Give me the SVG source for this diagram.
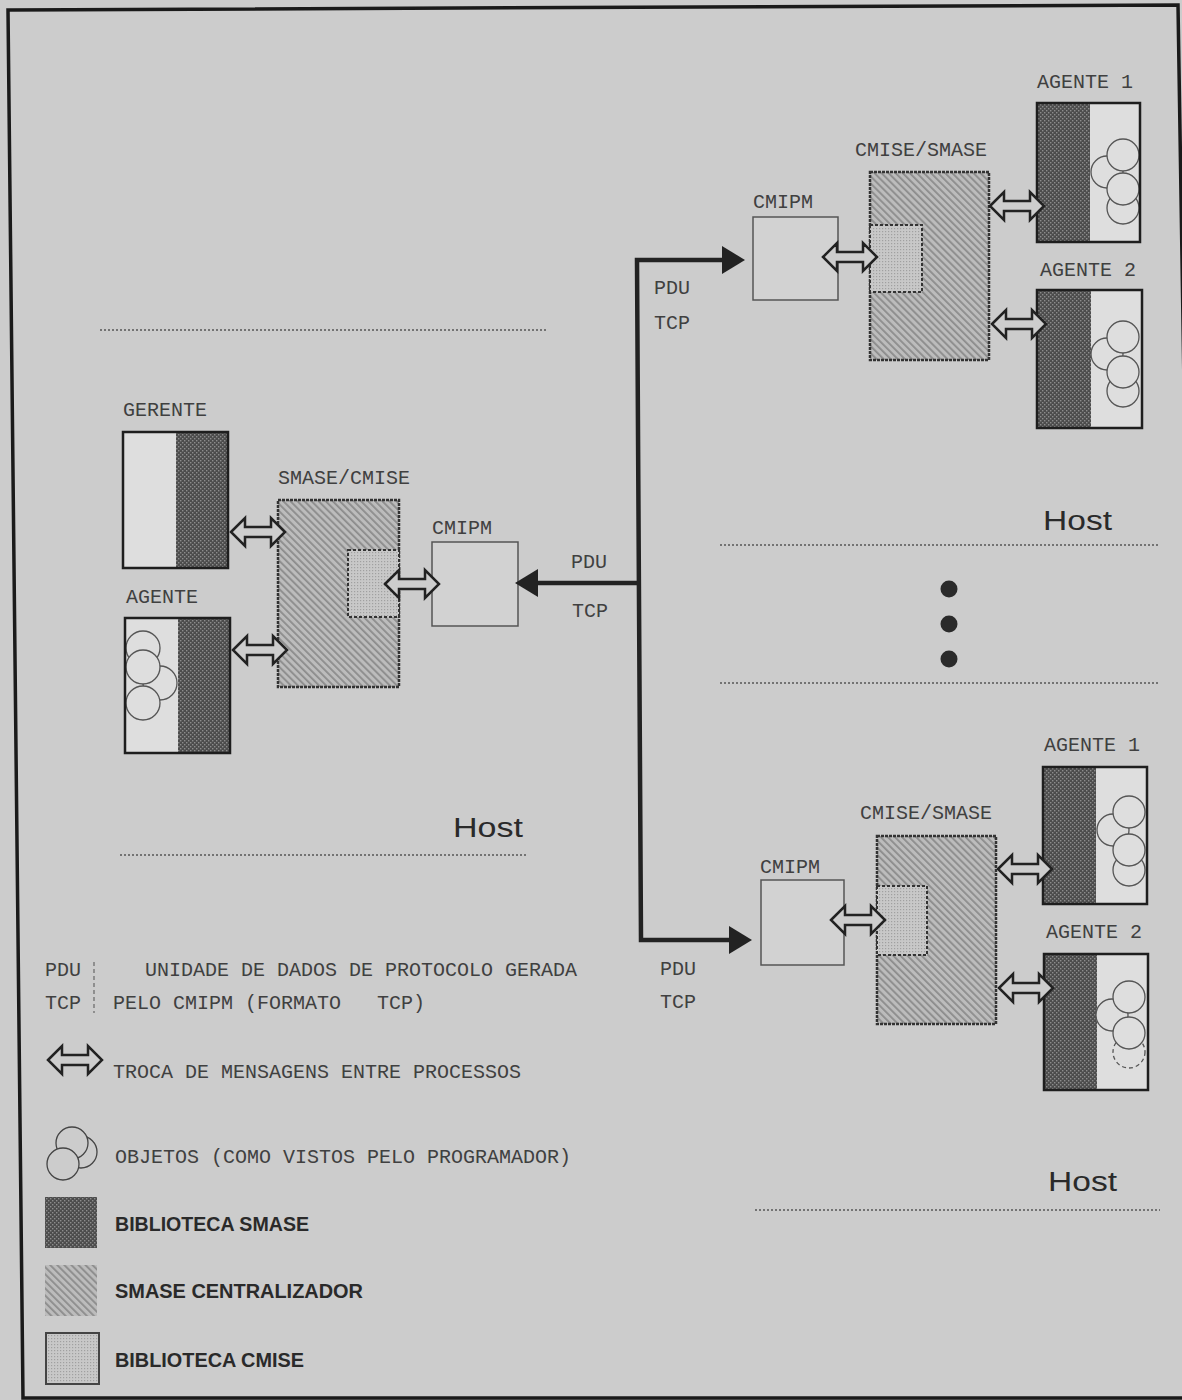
<svg xmlns="http://www.w3.org/2000/svg" width="1182" height="1400" viewBox="0 0 1182 1400">
<defs>
<style>
.mono{font-family:"Liberation Mono","DejaVu Sans Mono",monospace;font-size:20px;fill:#404040}
.host{font-family:"Liberation Sans",Arial,sans-serif;font-size:27px;fill:#2a2a2a}
.leg{font-family:"Liberation Sans",Arial,sans-serif;font-size:21px;font-weight:bold;fill:#2a2a2a}
.border{fill:none;stroke:#1e1e1e;stroke-width:2.5}
.light{fill:#dedede}
.dark{fill:url(#pDark)}
.cmipm{fill:#d2d2d2;stroke:#555;stroke-width:1.5}
.cent{fill:url(#pHatch);stroke:#333;stroke-width:2.5;stroke-dasharray:3 1}
.notch{fill:url(#pDot);stroke:#333;stroke-width:2;stroke-dasharray:3 2}
.obj{fill:#dedede;stroke:#555;stroke-width:1.3}
.objd{fill:#dedede;stroke:#555;stroke-width:1.3;stroke-dasharray:4 3}
.dots{stroke:#555;stroke-width:1.5;stroke-dasharray:2 2;fill:none}
.pdu{fill:none;stroke:#222;stroke-width:4.5}
.head{fill:#222}
.dbl{fill:#cdcdcd;stroke:#222;stroke-width:2.5;stroke-linejoin:miter}
</style>
<pattern id="pDark" width="4" height="4" patternUnits="userSpaceOnUse">
<rect width="4" height="4" fill="#4c4c4c"/>
<rect x="0" y="0" width="1.4" height="1.4" fill="#8c8c8c"/>
<rect x="2" y="2" width="1.4" height="1.4" fill="#8c8c8c"/>
</pattern>
<pattern id="pHatch" width="5" height="5" patternUnits="userSpaceOnUse" patternTransform="rotate(-45)">
<rect width="5" height="5" fill="#bcbcbc"/>
<rect width="1.8" height="5" fill="#8c8c8c"/>
</pattern>
<pattern id="pDot" width="3" height="3" patternUnits="userSpaceOnUse">
<rect width="3" height="3" fill="#c8c8c8"/>
<rect width="1.2" height="1.2" fill="#a0a0a0"/>
</pattern>
<path id="dblArrow" class="dbl" d="M-27,0 L-13,-14 L-13,-5 L13,-5 L13,-14 L27,0 L13,14 L13,5 L-13,5 L-13,14 Z"/>
</defs>

<rect width="1182" height="1400" fill="#cccccc"/>
<path d="M8,10 L1178,5 L1200,1398 L23,1398 Z" fill="none" stroke="#1a1a1a" stroke-width="3.5"/>

<g id="separators">
<line class="dots" x1="100" y1="330" x2="548" y2="330"/>
<line class="dots" x1="720" y1="545" x2="1158" y2="545"/>
<line class="dots" x1="720" y1="683" x2="1158" y2="683"/>
<line class="dots" x1="120" y1="855" x2="528" y2="855"/>
<line class="dots" x1="755" y1="1210" x2="1160" y2="1210"/>
<circle cx="949" cy="589" r="8.5" fill="#2a2a2a"/>
<circle cx="949" cy="624" r="8.5" fill="#2a2a2a"/>
<circle cx="949" cy="659" r="8.5" fill="#2a2a2a"/>
<text class="host" x="1043" y="530" textLength="69" lengthAdjust="spacingAndGlyphs">Host</text>
<text class="host" x="453" y="837" textLength="70" lengthAdjust="spacingAndGlyphs">Host</text>
<text class="host" x="1048" y="1191" textLength="69" lengthAdjust="spacingAndGlyphs">Host</text>
</g>

<!-- Top-right host -->
<g id="cmipm-top">
<rect class="cmipm" x="753" y="217" width="85" height="83"/>
<text class="mono" x="753" y="208">CMIPM</text>
</g>
<g id="cmise-smase-top">
<rect class="cent" x="870" y="172" width="119" height="188"/>
<rect class="notch" x="870" y="225" width="52" height="67"/>
<text class="mono" x="855" y="156">CMISE/SMASE</text>
</g>
<g id="agente1-top">
<rect class="light" x="1090" y="103" width="50" height="139"/>
<rect class="dark" x="1037" y="103" width="53" height="139"/>
<circle class="obj" cx="1107" cy="172" r="16"/>
<circle class="obj" cx="1123" cy="208" r="16"/>
<circle class="obj" cx="1123" cy="155" r="16"/>
<circle class="obj" cx="1123" cy="189" r="16"/>
<rect class="border" x="1037" y="103" width="103" height="139"/>
<text class="mono" x="1037" y="88">AGENTE 1</text>
</g>
<g id="agente2-top">
<rect class="light" x="1091" y="290" width="51" height="138"/>
<rect class="dark" x="1037" y="290" width="54" height="138"/>
<circle class="obj" cx="1107" cy="354" r="16"/>
<circle class="obj" cx="1123" cy="391" r="16"/>
<circle class="obj" cx="1123" cy="337" r="16"/>
<circle class="obj" cx="1123" cy="372" r="16"/>
<rect class="border" x="1037" y="290" width="105" height="138"/>
<text class="mono" x="1040" y="276">AGENTE 2</text>
</g>

<!-- Left host -->
<g id="gerente">
<rect class="light" x="123" y="432" width="53" height="136"/>
<rect class="dark" x="176" y="432" width="52" height="136"/>
<rect class="border" x="123" y="432" width="105" height="136"/>
<text class="mono" x="123" y="416">GERENTE</text>
</g>
<g id="agente-left">
<rect class="light" x="125" y="618" width="53" height="135"/>
<rect class="dark" x="178" y="618" width="52" height="135"/>
<circle class="obj" cx="160" cy="683" r="17"/>
<circle class="obj" cx="143" cy="648" r="17"/>
<circle class="obj" cx="143" cy="667" r="17"/>
<circle class="obj" cx="143" cy="703" r="17"/>
<rect class="border" x="125" y="618" width="105" height="135"/>
<text class="mono" x="126" y="603">AGENTE</text>
</g>
<g id="smase-cmise-left">
<rect class="cent" x="278" y="500" width="121" height="187"/>
<rect class="notch" x="348" y="550" width="51" height="67"/>
<text class="mono" x="278" y="484">SMASE/CMISE</text>
</g>
<g id="cmipm-left">
<rect class="cmipm" x="432" y="542" width="86" height="84"/>
<text class="mono" x="432" y="534">CMIPM</text>
</g>

<!-- Bottom-right host -->
<g id="cmipm-bottom">
<rect class="cmipm" x="761" y="880" width="83" height="85"/>
<text class="mono" x="760" y="873">CMIPM</text>
</g>
<g id="cmise-smase-bottom">
<rect class="cent" x="877" y="836" width="119" height="188"/>
<rect class="notch" x="877" y="886" width="50" height="69"/>
<text class="mono" x="860" y="819">CMISE/SMASE</text>
</g>
<g id="agente1-bottom">
<rect class="light" x="1096" y="767" width="51" height="137"/>
<rect class="dark" x="1043" y="767" width="53" height="137"/>
<circle class="obj" cx="1113" cy="830" r="16"/>
<circle class="obj" cx="1129" cy="870" r="16"/>
<circle class="obj" cx="1129" cy="812" r="16"/>
<circle class="obj" cx="1129" cy="850" r="16"/>
<rect class="border" x="1043" y="767" width="104" height="137"/>
<text class="mono" x="1044" y="751">AGENTE 1</text>
</g>
<g id="agente2-bottom">
<rect class="light" x="1097" y="954" width="51" height="136"/>
<rect class="dark" x="1044" y="954" width="53" height="136"/>
<circle class="obj" cx="1112" cy="1015" r="16"/>
<circle class="objd" cx="1129" cy="1052" r="16"/>
<circle class="obj" cx="1129" cy="997" r="16"/>
<circle class="obj" cx="1129" cy="1033" r="16"/>
<rect class="border" x="1044" y="954" width="104" height="136"/>
<text class="mono" x="1046" y="938">AGENTE 2</text>
</g>

<!-- Connectors -->
<g id="connectors">
<path class="pdu" d="M730,260 L637,260 L641,940 L734,940"/>
<path class="pdu" d="M639,583 L532,583"/>
<polygon class="head" points="722,246 745,260 722,274"/>
<polygon class="head" points="538,569 515,583 538,597"/>
<polygon class="head" points="729,926 752,940 729,954"/>
<use href="#dblArrow" x="850" y="257"/>
<use href="#dblArrow" x="1017" y="206"/>
<use href="#dblArrow" x="1019" y="324"/>
<use href="#dblArrow" x="258" y="532"/>
<use href="#dblArrow" x="260" y="650"/>
<use href="#dblArrow" x="412" y="584"/>
<use href="#dblArrow" x="858" y="920"/>
<use href="#dblArrow" x="1025" y="869"/>
<use href="#dblArrow" x="1026" y="988"/>
<text class="mono" x="654" y="294">PDU</text>
<text class="mono" x="654" y="329">TCP</text>
<text class="mono" x="571" y="568">PDU</text>
<text class="mono" x="572" y="617">TCP</text>
<text class="mono" x="660" y="975">PDU</text>
<text class="mono" x="660" y="1008">TCP</text>
</g>

<!-- Legend -->
<g id="legend">
<text class="mono" x="45" y="976">PDU</text>
<text class="mono" x="45" y="1009">TCP</text>
<line x1="94" y1="962" x2="94" y2="1013" stroke="#666" stroke-width="1.2" stroke-dasharray="4 3"/>
<text class="mono" x="145" y="976">UNIDADE DE DADOS DE PROTOCOLO GERADA</text>
<text class="mono" x="113" y="1009" xml:space="preserve">PELO CMIPM (FORMATO   TCP)</text>
<use href="#dblArrow" x="75" y="1060"/>
<text class="mono" x="113" y="1078">TROCA DE MENSAGENS ENTRE PROCESSOS</text>
<circle cx="81" cy="1152" r="16" fill="#cccccc" stroke="#444" stroke-width="1.3"/>
<circle cx="72" cy="1143" r="16" fill="#cccccc" stroke="#444" stroke-width="1.3"/>
<circle cx="63" cy="1164" r="16" fill="#cccccc" stroke="#444" stroke-width="1.3"/>
<text class="mono" x="115" y="1163">OBJETOS (COMO VISTOS PELO PROGRAMADOR)</text>
<rect x="45" y="1197" width="52" height="51" fill="url(#pDark)"/>
<text class="leg" x="115" y="1231" textLength="194" lengthAdjust="spacingAndGlyphs">BIBLIOTECA SMASE</text>
<rect x="45" y="1265" width="52" height="51" fill="url(#pHatch)"/>
<text class="leg" x="115" y="1298" textLength="248" lengthAdjust="spacingAndGlyphs">SMASE CENTRALIZADOR</text>
<rect x="46" y="1333" width="53" height="51" fill="url(#pDot)" stroke="#444" stroke-width="2"/>
<text class="leg" x="115" y="1367" textLength="189" lengthAdjust="spacingAndGlyphs">BIBLIOTECA CMISE</text>
</g>
</svg>
